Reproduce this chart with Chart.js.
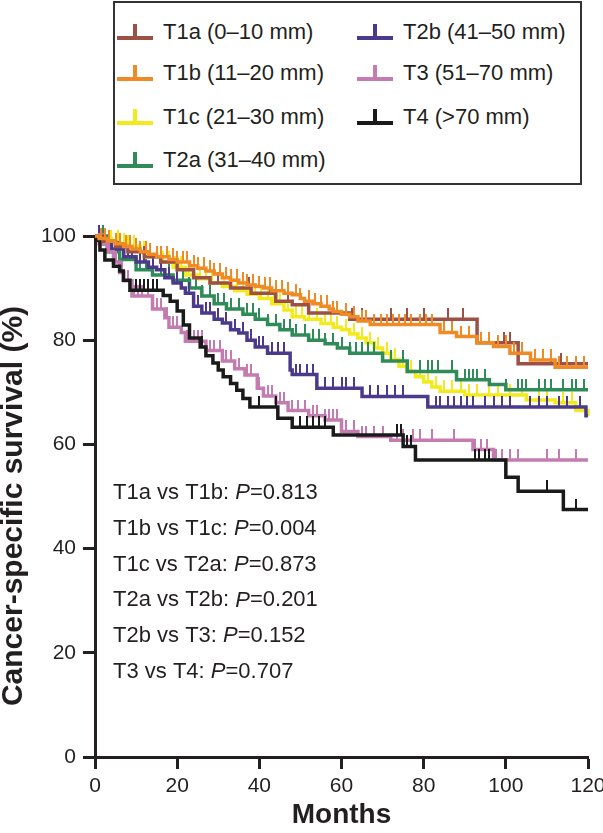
<!DOCTYPE html>
<html>
<head>
<meta charset="utf-8">
<script src="https://cdn.jsdelivr.net/npm/chart.js@4.4.1/dist/chart.umd.min.js"></script>
<style>
  body { margin: 0; background: #fff; }
  #wrap { position: relative; width: 603px; height: 833px; }
  #chart { position: absolute; left: 0; top: 0; }
  #legend {
    position: absolute; left: 113px; top: 1px; width: 465px; height: 180px;
    border: 2px solid #333; background: #fff;
    font-family: 'Liberation Sans', Arial, sans-serif; font-size: 22px; color: #231f20;
  }
  .item { position: absolute; height: 26px; line-height: 26px; white-space: nowrap; }
  .bar { position: absolute; left: 0; top: 17px; width: 36px; height: 4px; }
  .tick { position: absolute; left: 16px; top: 5px; width: 4px; height: 14px; }
  .label { position: absolute; left: 46px; top: 0; }
</style>
</head>
<body>
<div id="wrap">
  <canvas id="chart" width="603" height="833"></canvas>
  <div id="legend"></div>
</div>
<script>
// Kaplan-Meier steps: month where survival drops, survival (%) from that month on
const monthsT1a = [0, 2, 5, 8, 12, 16, 20, 24, 28, 33, 38, 44, 48, 52, 62, 93, 103, 120];
const survT1a   = [100, 99, 98, 97, 96, 95, 93.5, 92, 91, 90, 89, 87.5, 86.8, 85.2, 84, 79.5, 75.5, 75.5];
const censorT1a = [12, 20, 30, 37.5, 42.5, 47, 58, 62.5, 65, 72, 76, 80, 86, 89.5, 96, 99.5, 101, 111, 113.5];

const monthsT1b = [0, 1, 3, 5, 7, 9, 11, 13, 15, 18, 20, 23, 25, 27, 29, 31, 33, 35, 37, 39, 41, 43, 46, 48, 50, 51, 53, 55, 57, 58, 60, 62, 64, 67, 84, 88, 93, 97, 101, 106, 112, 120];
const survT1b   = [100, 99.5, 99, 98.5, 98, 97.5, 97, 96.5, 96, 95.5, 95, 94.3, 93.8, 93.3, 92.7, 92, 91.5, 91, 90.6, 90.3, 90, 89.5, 89, 88.7, 88, 87.5, 87, 86.5, 86, 85.5, 85, 84.5, 83.7, 83, 81.5, 80.7, 79.5, 78.8, 77.5, 76.2, 74.8, 74.8];
const censorT1b = [1.5, 2.5, 3.5, 5, 6, 7.5, 8.5, 10, 11, 12.5, 13.5, 15, 16, 17.5, 19, 20, 21.5, 22.5, 24, 25, 26.5, 28, 29, 30.5, 32, 33, 34.5, 36, 37, 38.5, 40, 41.5, 42.5, 44, 45.5, 47, 49, 50, 52, 53.5, 55, 56.5, 58, 59, 61, 63, 65, 66, 68, 69.5, 71, 72.5, 74, 75.5, 77, 79, 80.5, 82, 85, 87, 89, 91, 94, 96, 98, 100, 102, 104, 107, 109, 111, 113, 115, 117, 119];

const monthsT1c = [0, 2, 4, 6, 8, 11, 13, 16, 19, 22, 25, 28, 31, 34, 37, 40, 43, 46, 48, 51, 55, 58, 60, 62, 64, 66, 68, 70, 72, 74, 76, 78, 80, 82, 84, 90, 105, 112, 117, 120];
const survT1c   = [100, 99.5, 99, 98.5, 98, 97, 96, 95, 94, 92.5, 91.8, 91, 90.3, 89.5, 88.8, 88, 87, 85.8, 84.5, 84, 83.2, 82.5, 82, 81.2, 80.4, 79.5, 78.5, 77.5, 76.3, 75, 74, 73, 72, 71, 70.2, 69.5, 68.5, 68, 66.5, 65.5];
const censorT1c = [1, 2.5, 4, 5.5, 7, 8, 9.5, 11, 12, 13.5, 15, 16.5, 18, 19.5, 21, 23, 24, 25.5, 27, 28.5, 30, 31.5, 33, 34.5, 36, 37.5, 39, 40.5, 42, 43.5, 45, 47, 49, 50.5, 52, 54, 56, 57.5, 59, 61, 63, 65, 67, 69, 71, 73, 75, 77, 79, 81, 83, 85, 87, 89, 91, 93, 96, 98, 101, 104, 108, 110, 114, 116];

const monthsT2a = [0, 3, 6, 10, 14, 19, 23, 26, 29, 32, 36, 39, 42, 45, 48, 52, 56, 59, 62, 70, 76, 88, 96, 100, 120];
const survT2a   = [100, 97, 95.5, 93.5, 92.5, 91.5, 90, 88.5, 87, 86, 85, 84, 83, 82, 81, 80, 79.3, 78.5, 77.5, 76, 74, 72.4, 71.5, 70.5, 70.5];
const censorT2a = [2, 4, 5.5, 7, 9, 11, 12.5, 14, 16, 18, 20, 21.5, 23, 24.5, 26, 28, 30, 31.5, 33, 35, 37, 38.5, 40, 42, 44, 46, 47.5, 49, 51, 53, 54.5, 56, 58, 60, 62, 63.5, 65, 66.5, 68, 72, 75, 79, 81, 82, 83.5, 87, 90, 91, 92, 93, 95, 100, 103, 104, 105, 108, 109.5, 111, 114, 116, 117, 119];

const monthsT2b = [0, 2, 4, 7, 10, 13, 15, 17, 19, 21, 22, 24, 26, 29, 31, 33, 35, 37, 39, 42, 47.5, 48, 54, 65, 81, 119.5, 120];
const survT2b   = [100, 98.5, 97.5, 96, 95, 94, 93.5, 92, 91, 90, 89, 86.5, 85.2, 84, 83.3, 82, 81.4, 80, 78.7, 77.5, 74.3, 73.4, 70.8, 69.2, 67.2, 65.5, 65.5];
const censorT2b = [1, 2.5, 3.5, 5, 6, 8, 9, 11, 12, 14, 16, 18, 20, 23, 25, 27, 28, 30, 32, 34, 36, 38, 40, 41, 43, 44.5, 46, 49, 50, 51.5, 53, 56, 58, 60, 61, 63, 67, 69, 71, 73, 75, 83, 84, 86, 87.5, 89, 90.5, 92, 95, 97, 99, 101, 106, 108, 110, 113, 115, 118];

const monthsT3 = [0, 1, 3, 4.5, 6, 7, 9, 14, 17, 18, 21, 22, 27, 31, 34, 36.5, 39.5, 41, 44, 47, 52, 56, 60, 64, 72, 92, 97, 120];
const survT3   = [100, 98.5, 97, 95, 93, 91.4, 88.5, 86, 84.3, 82.5, 81.5, 79.8, 78, 76, 74.5, 73.3, 70.8, 69.3, 68, 66.5, 65.5, 64.7, 62.5, 61.5, 60.8, 59, 57, 57];
const censorT3 = [1, 2, 3.5, 5, 6.5, 8, 9.5, 10.5, 11.5, 13, 15, 16, 17.5, 19, 20, 22.5, 24, 25, 26, 28, 29, 30.5, 32, 33, 35, 37, 38, 40, 42, 43, 45, 46, 48, 49.5, 51, 53, 54, 56, 57, 58, 59, 61, 63, 65, 66, 68, 70, 73.5, 75, 77.5, 79, 82, 87.5, 92.5, 94, 95.5, 97.5, 99, 101, 103, 110, 113, 117];

const monthsT4 = [0, 0.5, 1.2, 2.4, 4.5, 6, 6.9, 8.5, 16.6, 18.3, 20, 21.5, 23, 25.6, 27, 28.7, 30, 31.2, 33, 34.5, 36, 37.7, 44.5, 48, 58, 75, 78, 100, 103, 114, 120];
const survT4   = [100, 99.2, 97.3, 95.4, 94.2, 93.3, 91.5, 89.6, 88.6, 87.5, 85.6, 82.9, 80.4, 78.7, 77, 75.6, 74.3, 73, 71.7, 70.4, 68.8, 67.2, 65, 63.3, 61.8, 59.6, 57, 53.7, 51, 47.5, 47.5];
const censorT4 = [10, 11, 12, 13, 14, 15, 26, 40, 44, 50, 51.5, 53, 54.5, 56, 73.5, 74.5, 76, 77, 92.5, 93.5, 95, 96, 110, 117];

const seriesNames = ['T1a (0\u201310 mm)', 'T1b (11\u201320 mm)', 'T1c (21\u201330 mm)', 'T2a (31\u201340 mm)',
                     'T2b (41\u201350 mm)', 'T3 (51\u201370 mm)', 'T4 (>70 mm)'];
const seriesColors = ['#9c5046', '#f08a24', '#f3ea1e', '#2f8b57', '#4b3a8c', '#c47cb0', '#1a1a1a'];

const pLabels = ['T1a vs T1b', 'T1b vs T1c', 'T1c vs T2a', 'T2a vs T2b', 'T2b vs T3', 'T3 vs T4'];
const pValues = ['0.813', '0.004', '0.873', '0.201', '0.152', '0.707'];

const xTicks = [0, 20, 40, 60, 80, 100, 120];
const yTicks = [0, 20, 40, 60, 80, 100];
const yTitle = 'Cancer-specific survival (%)';

const FONT = "'Liberation Sans', Arial, sans-serif";
const INK = '#231f20';

const allMonths = [monthsT1a, monthsT1b, monthsT1c, monthsT2a, monthsT2b, monthsT3, monthsT4];
const allSurv = [survT1a, survT1b, survT1c, survT2a, survT2b, survT3, survT4];
const allCensor = [censorT1a, censorT1b, censorT1c, censorT2a, censorT2b, censorT3, censorT4];

// survival value at month t (step function)
function survAt(months, surv, t) {
    let v = surv[0];
    for (let i = 0; i < months.length; i++) {
        if (months[i] <= t) v = surv[i];
    }
    return v;
}

// small vertical tick drawn above the point, used for censored cases
function tickImage(color) {
    const c = document.createElement('canvas');
    c.width = 2;
    c.height = 22;
    const g = c.getContext('2d');
    g.fillStyle = color;
    g.fillRect(0, 0, 2, 11.5);
    return c;
}

// drawing order, first one ends up on top
const zOrder = [1, 0, 6, 5, 4, 3, 2];

const datasets = [];
zOrder.forEach((idx, rank) => {
    const color = seriesColors[idx];
    datasets.push({
        label: seriesNames[idx],
        data: allMonths[idx].map((m, i) => ({ x: m, y: allSurv[idx][i] })),
        borderColor: color,
        borderWidth: 3.5,
        stepped: 'before',
        pointRadius: 0,
        fill: false,
        clip: false,
        order: rank * 2
    });
    datasets.push({
        label: seriesNames[idx] + ' censored',
        data: allCensor[idx].map(t => ({ x: t, y: survAt(allMonths[idx], allSurv[idx], t) })),
        showLine: false,
        pointStyle: tickImage(color),
        pointRadius: 4,
        clip: false,
        order: rank * 2 + 1
    });
});

// legend box, filled column by column
const legendEl = document.getElementById('legend');
const rowTops = [16, 57, 101, 144];
seriesNames.forEach((name, i) => {
    const col = i < 4 ? 0 : 1;
    const row = i < 4 ? i : i - 4;
    const item = document.createElement('div');
    item.className = 'item';
    item.style.left = (col === 0 ? 2 : 242) + 'px';
    item.style.top = rowTops[row] + 'px';
    item.innerHTML = `
        <div class="bar" style="background:${seriesColors[i]}"></div>
        <div class="tick" style="background:${seriesColors[i]}"></div>
        <div class="label">${name.replace('>', '&gt;')}</div>
    `;
    legendEl.appendChild(item);
});

// P-value annotations and the y axis title
const textPlugin = {
    id: 'texts',
    afterDraw(chart) {
        const ctx = chart.ctx;
        ctx.save();
        ctx.fillStyle = INK;
        ctx.textBaseline = 'middle';
        pLabels.forEach((lab, i) => {
            const y = 493 + i * 35.8;
            let x = 113;
            ctx.font = `22px ${FONT}`;
            const head = lab + ': ';
            ctx.fillText(head, x, y);
            x += ctx.measureText(head).width;
            ctx.font = `italic 22px ${FONT}`;
            ctx.fillText('P', x, y);
            x += ctx.measureText('P').width;
            ctx.font = `22px ${FONT}`;
            ctx.fillText('=' + pValues[i], x, y);
        });
        ctx.translate(14, 506);
        ctx.rotate(-Math.PI / 2);
        ctx.textAlign = 'center';
        ctx.font = `bold 30px ${FONT}`;
        ctx.fillText(yTitle, 0, 0);
        ctx.restore();
    }
};

new Chart(document.getElementById('chart'), {
    type: 'line',
    data: { datasets: datasets },
    plugins: [textPlugin],
    options: {
        responsive: false,
        animation: false,
        layout: { padding: { top: 236, right: 15, bottom: 0, left: 0 } },
        plugins: {
            legend: { display: false },
            tooltip: { enabled: false }
        },
        scales: {
            x: {
                type: 'linear',
                min: 0,
                max: 120,
                afterBuildTicks: scale => { scale.ticks = xTicks.map(v => ({ value: v })); },
                afterFit: scale => { scale.height = 76; scale.paddingRight = 15; },
                ticks: { padding: 5, color: INK, font: { family: FONT, size: 21 } },
                grid: { drawOnChartArea: false, tickLength: 12, tickWidth: 3, tickColor: INK },
                border: { width: 3, color: INK },
                title: {
                    display: true, text: 'Months', color: INK,
                    font: { family: FONT, size: 28, weight: 'bold', lineHeight: 1.2 },
                    padding: { top: 0, bottom: 1 }
                }
            },
            y: {
                min: 0,
                max: 100,
                afterBuildTicks: scale => { scale.ticks = yTicks.map(v => ({ value: v })); },
                afterFit: scale => { scale.width = 95; },
                ticks: { padding: 7, color: INK, font: { family: FONT, size: 21 } },
                grid: { drawOnChartArea: false, tickLength: 12, tickWidth: 3, tickColor: INK },
                border: { width: 3, color: INK }
            }
        }
    }
});
</script>
</body>
</html>
